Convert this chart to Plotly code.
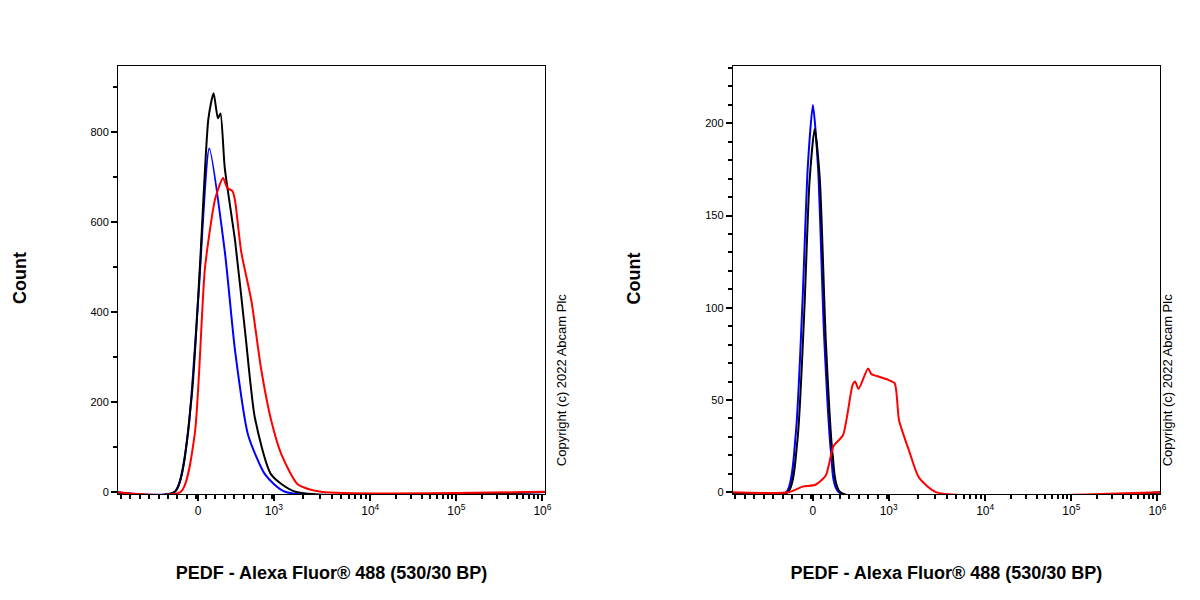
import numpy as np
import plotly.graph_objects as go

# x positions are in display units of the biexponential axis: 0 -> 0, 10^3 -> 0.88, 10^4 -> 2, 10^5 -> 3, 10^6 -> 4
left_blue_x = [-1.0, -0.27, -0.12, 0.0, 0.13, 0.31, 0.43, 0.58, 0.78, 1.01, 4.1]
left_blue_y = [0, 0, 127, 424, 764, 535, 313, 127, 38, 0, 0]
left_black_x = [-1.0, -0.27, -0.08, 0.02, 0.12, 0.18, 0.23, 0.26, 0.31, 0.43, 0.55, 0.66, 0.85, 1.13, 4.1]
left_black_y = [0, 0, 202, 498, 831, 887, 831, 842, 720, 558, 349, 164, 38, 0, 0]
left_red_x = [-1.0, -0.2, -0.04, 0.08, 0.2, 0.29, 0.34, 0.4, 0.43, 0.5, 0.62, 0.73, 0.85, 0.97, 1.16, 1.43, 4.1]
left_red_y = [0, 0, 127, 498, 653, 698, 676, 669, 647, 535, 424, 276, 158, 82, 16, 0, 0]

right_blue_x = [-1.0, -0.31, -0.2, -0.12, -0.06, 0.0, 0.06, 0.13, 0.21, 0.3, 4.1]
right_blue_y = [0, 0, 31, 104, 176, 210, 176, 85, 22, 0, 0]
right_black_x = [-1.0, -0.29, -0.18, -0.1, -0.04, 0.02, 0.08, 0.15, 0.23, 0.32, 4.1]
right_black_y = [0, 0, 28, 98, 168, 197, 170, 82, 20, 0, 0]
right_red_x = [-1.0, -0.28, -0.12, 0.03, 0.15, 0.24, 0.35, 0.46, 0.49, 0.53, 0.64, 0.68, 0.74, 0.87, 0.95, 1.0, 1.12, 1.23, 1.43, 4.1]
right_red_y = [0, 0, 3, 4, 9, 25, 31, 58, 60, 56, 67, 64, 63, 61, 59, 39, 22, 8, 0, 0]

x_tickvals = [0, 0.88, 2, 3, 4]
x_ticktext = ["0", "10<sup>3</sup>", "10<sup>4</sup>", "10<sup>5</sup>", "10<sup>6</sup>"]

# minor tick positions of the biexponential axis
minor_x = list(np.arange(-0.9, 0.88, 0.11))
for k in range(2, 10):
    minor_x.append(0.88 + 1.12 * np.log10(k))
for d in (2, 3):
    for k in range(2, 10):
        minor_x.append(d + np.log10(k))

fig = go.Figure()
series = [
    (left_blue_x, left_blue_y, "blue", "x", "y"),
    (left_black_x, left_black_y, "black", "x", "y"),
    (left_red_x, left_red_y, "red", "x", "y"),
    (right_blue_x, right_blue_y, "blue", "x2", "y2"),
    (right_black_x, right_black_y, "black", "x2", "y2"),
    (right_red_x, right_red_y, "red", "x2", "y2"),
]
for xs, ys, col, xa, ya in series:
    fig.add_trace(go.Scatter(x=xs, y=ys, mode="lines", xaxis=xa, yaxis=ya,
                             line=dict(color=col, width=2, shape="spline", smoothing=0.6),
                             showlegend=False))

xcommon = dict(range=[-0.93, 4.03], tickvals=x_tickvals, ticktext=x_ticktext, automargin=False,
               ticks="outside", ticklen=6, tickwidth=2, tickcolor="black",
               showline=True, linecolor="black", linewidth=1, mirror=True,
               showgrid=False, zeroline=False,
               minor=dict(tickvals=minor_x, ticks="outside", ticklen=4, tickcolor="black"),
               tickfont=dict(family="Liberation Sans", size=12, color="black"),
               title=dict(text="<b>PEDF - Alexa Fluor® 488 (530/30 BP)</b>", standoff=48,
                          font=dict(family="Liberation Sans", size=18, color="black")))
ycommon = dict(ticks="outside", ticklen=6, tickwidth=2, tickcolor="black", automargin=False,
               showline=True, linecolor="black", linewidth=1, mirror=True,
               showgrid=False, zeroline=False,
               tickfont=dict(family="Liberation Sans", size=11, color="black"))

fig.update_layout(
    width=1200, height=600, margin=dict(l=0, r=0, t=0, b=0),
    plot_bgcolor="white", paper_bgcolor="white",
    xaxis=dict(domain=[0.0917, 0.4475], anchor="y", **xcommon),
    yaxis=dict(domain=[0.19, 0.903], anchor="x", range=[-5, 947], tickvals=[0, 200, 400, 600, 800],
               minor=dict(dtick=100, ticks="outside", ticklen=4, tickcolor="black"), **ycommon),
    xaxis2=dict(domain=[0.604, 0.96], anchor="y2", **xcommon),
    yaxis2=dict(domain=[0.19, 0.903], anchor="x2", range=[-1, 231], tickvals=[0, 50, 100, 150, 200],
                minor=dict(dtick=10, ticks="outside", ticklen=4, tickcolor="black"), **ycommon),
)

for xp in (0.0, 0.512):
    fig.add_annotation(text="<b>Count</b>", xref="paper", yref="paper", x=xp, y=0.55,
                       xanchor="left", textangle=-90, showarrow=False,
                       font=dict(family="Liberation Sans", size=18, color="black"))
for xp in (0.461, 0.974):
    fig.add_annotation(text="Copyright (c) 2022 Abcam Plc", xref="paper", yref="paper", x=xp, y=0.38,
                       textangle=-90, showarrow=False,
                       font=dict(family="Liberation Sans", size=13, color="black"))

fig.write_html("out.html")
